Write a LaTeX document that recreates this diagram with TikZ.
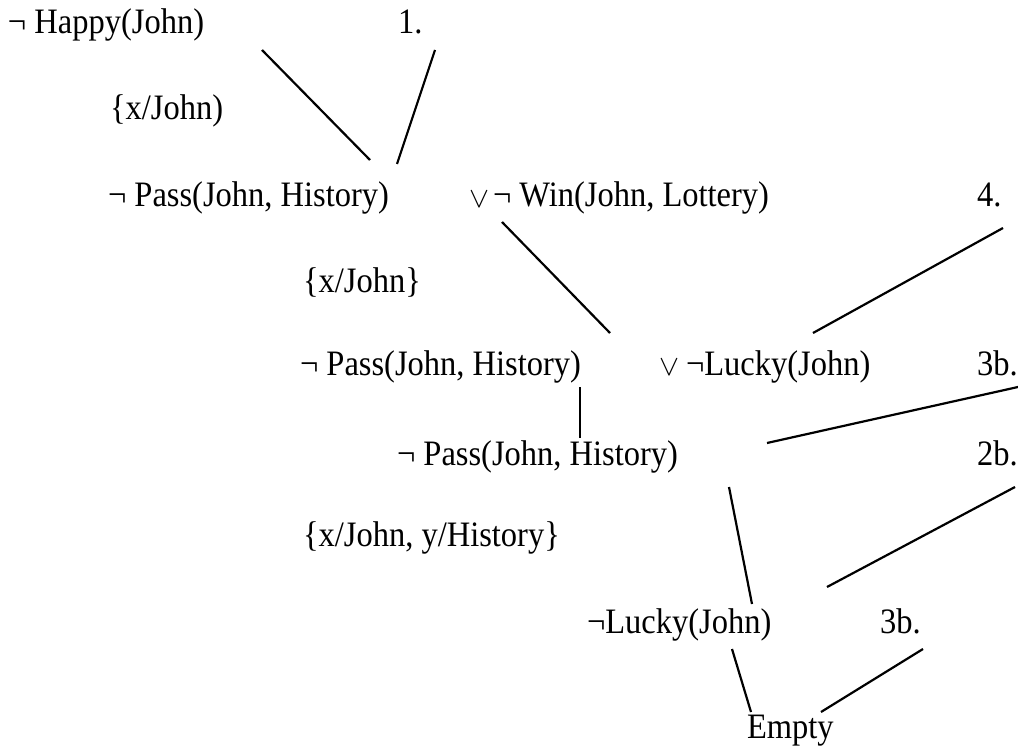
\documentclass[tikz,border=0pt]{standalone}
\usepackage{fontspec}
\usepackage{graphicx}
\setmainfont{Liberation Serif}
% thin "or" operator taken from the math symbol font, sized to the text
\newcommand{\orsym}{\resizebox{20pt}{16pt}{$\vee$}}
\newcommand{\tall}[1]{\scalebox{1}[1.1]{#1}}
\begin{document}
\begin{tikzpicture}[x=1pt,y=-1pt,
  lbl/.style={anchor=base west,inner sep=0pt,outer sep=0pt,font=\fontsize{32.5}{38}\selectfont},
  edge/.style={line width=2.2pt}]
\useasboundingbox (0,0) rectangle (1018,749);

% clauses and substitutions
\node[lbl] (happy) at (8,34) {\tall{¬ Happy(John)}};
\node[lbl] (one) at (398,34) {\tall{1.}};
\node[lbl] (sub1) at (110,120) {\tall{\{x/John)}};
\node[lbl] (pass1) at (108,207) {\tall{¬ Pass(John, History)}};
\node[lbl] (win) at (469,207) {\orsym\hspace{4pt}\tall{¬ Win(John, Lottery)}};
\node[lbl] (four) at (977,207) {\tall{4.}};
\node[lbl] (sub2) at (303,292) {\tall{\{x/John\}}};
\node[lbl] (pass2) at (300,375) {\tall{¬ Pass(John, History)}};
\node[lbl] (lucky1) at (659,375) {\orsym\hspace{7pt}\tall{¬Lucky(John)}};
\node[lbl] (threeb1) at (977,375) {\tall{3b.}};
\node[lbl] (pass3) at (397,465) {\tall{¬ Pass(John, History)}};
\node[lbl] (twob) at (977,465) {\tall{2b.}};
\node[lbl] (sub3) at (303,546) {\tall{\{x/John, y/History\}}};
\node[lbl] (lucky2) at (587,633) {\tall{¬Lucky(John)}};
\node[lbl] (threeb2) at (880,633) {\tall{3b.}};
\node[lbl] (empty) at (747,738) {\tall{Empty}};

% connector end points
\coordinate (a1) at (262,50);   \coordinate (a2) at (370,160);
\coordinate (b1) at (435,50);   \coordinate (b2) at (397,164);
\coordinate (c1) at (502,222);  \coordinate (c2) at (610,333);
\coordinate (d1) at (1003,228); \coordinate (d2) at (813,333);
\coordinate (e1) at (580,387);  \coordinate (e2) at (580,438);
\coordinate (f1) at (1018,387); \coordinate (f2) at (767,443);
\coordinate (g1) at (729,487);  \coordinate (g2) at (752,604);
\coordinate (h1) at (1015,487); \coordinate (h2) at (827,587);
\coordinate (i1) at (732,649);  \coordinate (i2) at (751,712);
\coordinate (j1) at (923,649);  \coordinate (j2) at (821,712);

% resolution steps
\draw[edge] (a1) -- (a2);
\draw[edge] (b1) -- (b2);
\draw[edge] (c1) -- (c2);
\draw[edge] (d1) -- (d2);
\draw[edge] (e1) -- (e2);
\draw[edge] (f1) -- (f2);
\draw[edge] (g1) -- (g2);
\draw[edge] (h1) -- (h2);
\draw[edge] (i1) -- (i2);
\draw[edge] (j1) -- (j2);
\end{tikzpicture}
\end{document}
